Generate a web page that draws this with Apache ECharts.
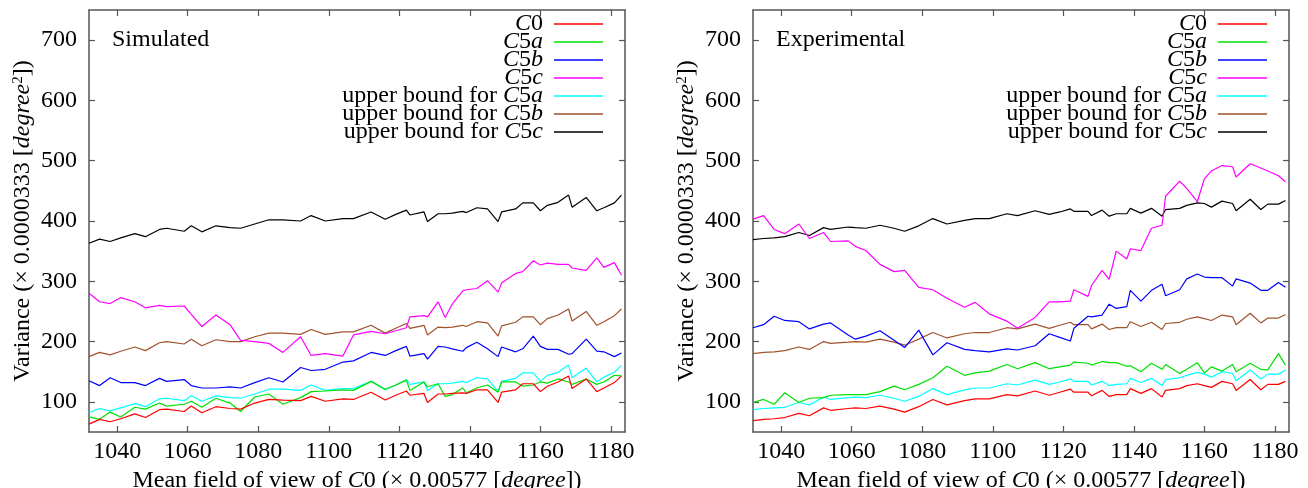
<!DOCTYPE html>
<html><head><meta charset="utf-8">
<script src="https://cdn.jsdelivr.net/npm/echarts@6/dist/echarts.min.js"></script>
<style>html,body{margin:0;padding:0;background:#fff}#c{width:1308px;height:488px}</style>
</head><body><div id="c"></div>
<script>
// Mean field of view of C0 (x values shared by all series)
const fovX = [1032,1035,1038,1041,1045,1048,1052,1054,1059,1061,1064,1068,1072,1075,1079,1083,1087,1092,1095,1099,1104,1107,1112,1116,1119,1122,1123,1127,1128,1131,1133,1135,1138,1139,1142,1145,1148,1149,1153,1155,1158,1160,1162,1165,1168,1169,1173,1176,1178,1181,1183];

// Simulated panel
const simC0  = [63,71,67,72,80,74,87,88,84,93,82,92,89,88,98,104,103,102,109,101,105,104,116,103,111,118,111,114,99,113,113,114,115,114,120,120,99,116,120,130,130,117,126,133,143,122,138,117,123,132,143];
const simC5a = [75,71,83,75,91,88,98,93,96,101,91,106,98,84,108,113,96,107,117,118,120,119,134,121,128,136,119,133,125,130,109,112,123,115,123,128,116,133,133,126,128,133,131,138,133,129,138,129,133,144,143];
const simC5b = [135,127,140,132,132,127,139,134,137,127,123,123,125,123,132,140,133,157,152,154,166,168,182,177,185,192,176,180,171,192,191,188,184,190,199,188,175,191,183,188,209,192,187,187,179,180,204,184,183,175,181];
const simC5c = [280,266,263,273,266,256,260,258,259,245,225,244,228,202,200,197,182,208,177,180,176,211,217,213,218,223,241,243,241,266,240,262,284,286,288,301,282,297,313,316,334,327,330,328,328,322,318,339,323,331,310];
const simUbA = [82,89,85,90,97,92,105,106,102,110,101,110,107,106,113,121,121,119,128,119,122,122,134,120,128,137,129,133,119,130,130,131,134,132,140,138,117,134,139,148,148,134,144,149,161,140,156,133,141,149,161];
const simUbB = [175,182,178,184,191,185,198,200,196,204,193,203,200,200,208,214,214,212,220,212,216,216,227,214,222,230,222,227,211,224,223,224,227,225,233,231,209,226,232,241,241,228,238,244,254,234,250,227,233,243,254];
const simUbC = [363,370,366,372,379,374,386,388,383,392,382,392,389,388,395,402,402,400,409,400,404,404,415,403,411,418,410,415,399,412,412,413,416,414,422,420,399,415,420,430,430,417,426,431,443,423,439,417,422,430,443];

// Experimental panel
const expC0  = [69,71,72,74,81,77,90,86,89,90,89,93,88,83,92,104,95,102,105,105,112,110,118,111,116,121,116,116,110,119,109,112,112,122,114,122,108,119,122,127,130,127,124,134,130,119,137,120,129,129,134];
const expC5a = [99,104,96,115,99,106,107,111,112,112,112,117,126,120,129,140,159,144,148,151,162,155,165,155,158,161,166,164,161,167,165,165,159,160,150,164,154,162,147,154,165,148,158,151,162,150,164,154,153,180,161];
const expC5b = [223,228,242,235,233,221,229,231,211,204,209,218,202,190,219,178,198,187,185,183,188,186,193,213,207,201,222,242,241,244,262,255,258,285,267,285,295,276,286,304,312,307,306,306,292,304,297,285,285,298,290];
const expC5c = [403,409,386,379,395,371,381,366,367,358,351,328,316,318,290,286,272,257,265,246,234,222,240,266,266,267,286,275,293,318,303,350,337,354,351,388,393,441,466,454,432,470,483,492,490,473,495,488,483,475,465];
const expUbA = [87,89,90,91,99,95,108,104,107,108,107,111,106,101,109,122,112,120,123,123,130,128,136,129,133,138,134,134,128,134,127,129,130,139,132,139,127,137,140,144,149,146,141,150,147,135,153,138,146,146,153];
const expUbB = [180,182,183,185,191,187,200,197,199,200,199,204,199,194,204,215,206,213,215,215,223,221,229,222,227,232,228,228,221,229,220,223,223,233,225,232,220,230,232,237,241,238,235,244,241,228,247,231,239,239,245];
const expUbC = [369,371,372,374,381,376,389,386,390,389,388,393,388,383,392,404,395,401,404,404,412,409,417,411,415,420,416,416,409,418,408,412,412,421,413,421,408,419,421,426,430,429,423,433,429,417,436,419,428,428,434];

const xTicks = [1040,1060,1080,1100,1120,1140,1160,1180];
const yTicks = [100,200,300,400,500,600,700];
const seriesNames = ['C0','C5a','C5b','C5c','upper bound for C5a','upper bound for C5b','upper bound for C5c'];
const panelTitles = ['Simulated','Experimental'];
const panels = [
  [simC0, simC5a, simC5b, simC5c, simUbA, simUbB, simUbC],
  [expC0, expC5a, expC5b, expC5c, expUbA, expUbB, expUbC]
];

const colors = ['#ff0000','#00e000','#0000ff','#ff00ff','#00ffff','#a0522d','#000000'];
const FONT = 'Liberation Serif';
const FS = 24;
const AX = '#555555';
const X_MIN = 1032, X_MAX = 1184, Y_MIN = 50, Y_MAX = 750;

const richBase = {
  n: {fontFamily: FONT, fontSize: FS, color: '#000'},
  i: {fontFamily: FONT, fontSize: FS, color: '#000', fontStyle: 'italic'},
  sup: {fontFamily: FONT, fontSize: 15, color: '#000', verticalAlign: 'top'}
};
const legendRich = {
  n: {fontFamily: FONT, fontSize: FS, color: '#000'},
  i: {fontFamily: FONT, fontSize: FS, color: '#000', fontStyle: 'italic'}
};
function legendLabel(name) {
  const m = name.match(/^(upper bound for )?C(\d)([abc]?)$/);
  let s = m[1] ? '{n|' + m[1] + '}' : '';
  s += '{i|C}{n|' + m[2] + '}';
  if (m[3]) s += '{i|' + m[3] + '}';
  return s;
}
const plain = v => String(v);

const grids = [
  {left: 89, top: 10, width: 536, height: 422, outerBoundsMode: 'none', containLabel: false},
  {left: 753, top: 10, width: 536, height: 422, outerBoundsMode: 'none', containLabel: false}
];
const xAxes = [], yAxes = [], series = [], legends = [], graphics = [];
grids.forEach((g, gi) => {
  xAxes.push({
    gridIndex: gi, type: 'value', min: X_MIN, max: X_MAX, position: 'bottom',
    axisLine: {show: true, onZero: false, lineStyle: {color: AX, width: 1.5}},
    axisTick: {show: true, inside: true, length: 6, customValues: xTicks, lineStyle: {color: AX, width: 1.2}},
    axisLabel: {customValues: xTicks, formatter: plain, fontFamily: FONT, fontSize: FS, color: '#000', margin: 8},
    splitLine: {show: false},
    name: '{n|Mean field of view of }{i|C}{n|0 (× 0.00577 [}{i|degree}{n|])}',
    nameLocation: 'middle', nameGap: 34,
    nameTextStyle: {fontFamily: FONT, fontSize: FS, rich: richBase}
  });
  xAxes.push({
    gridIndex: gi, type: 'value', min: X_MIN, max: X_MAX, position: 'top',
    axisLine: {show: true, onZero: false, lineStyle: {color: AX, width: 1.5}},
    axisTick: {show: true, inside: true, length: 6, customValues: xTicks, lineStyle: {color: AX, width: 1.2}},
    axisLabel: {show: false}, splitLine: {show: false}
  });
  yAxes.push({
    gridIndex: gi, type: 'value', min: Y_MIN, max: Y_MAX, position: 'left',
    axisLine: {show: true, onZero: false, lineStyle: {color: AX, width: 1.5}},
    axisTick: {show: true, inside: true, length: 6, customValues: yTicks, lineStyle: {color: AX, width: 1.2}},
    axisLabel: {customValues: yTicks, formatter: plain, fontFamily: FONT, fontSize: FS, color: '#000', margin: 12},
    splitLine: {show: false},
    name: '{n|Variance (× 0.0000333 [}{i|degree}{sup|2}{n|])}',
    nameLocation: 'middle', nameGap: 54,
    nameTextStyle: {fontFamily: FONT, fontSize: FS, rich: richBase}
  });
  yAxes.push({
    gridIndex: gi, type: 'value', min: Y_MIN, max: Y_MAX, position: 'right',
    axisLine: {show: true, onZero: false, lineStyle: {color: AX, width: 1.5}},
    axisTick: {show: true, inside: true, length: 6, customValues: yTicks, lineStyle: {color: AX, width: 1.2}},
    axisLabel: {show: false}, splitLine: {show: false}
  });
  panels[gi].forEach((vals, si) => {
    series.push({
      type: 'line', name: seriesNames[si],
      xAxisIndex: gi * 2, yAxisIndex: gi * 2,
      data: fovX.map((x, k) => [x, vals[k]]),
      symbol: 'none', silent: true,
      lineStyle: {color: colors[si], width: 1.2},
      itemStyle: {color: colors[si]},
      z: 2 + (6 - si)
    });
  });
  legends.push({
    data: seriesNames, orient: 'vertical', align: 'right',
    right: 1308 - (g.left + g.width - 22), top: 12, padding: 0,
    icon: 'rect', itemWidth: 49, itemHeight: 1.5, itemGap: -6,
    selectedMode: false,
    formatter: legendLabel,
    textStyle: {fontFamily: FONT, fontSize: FS, color: '#000', rich: legendRich, padding: [0, 6, 0, 0]}
  });
  graphics.push({
    type: 'text', x: g.left + 23, y: 40,
    style: {text: panelTitles[gi], fontFamily: FONT, fontSize: FS, fill: '#000', verticalAlign: 'middle', align: 'left'}
  });
});

const chart = echarts.init(document.getElementById('c'), null, {renderer: 'canvas'});
chart.setOption({
  animation: false,
  backgroundColor: '#fff',
  grid: grids,
  xAxis: xAxes,
  yAxis: yAxes,
  legend: legends,
  series: series,
  graphic: graphics
});
</script></body></html>
